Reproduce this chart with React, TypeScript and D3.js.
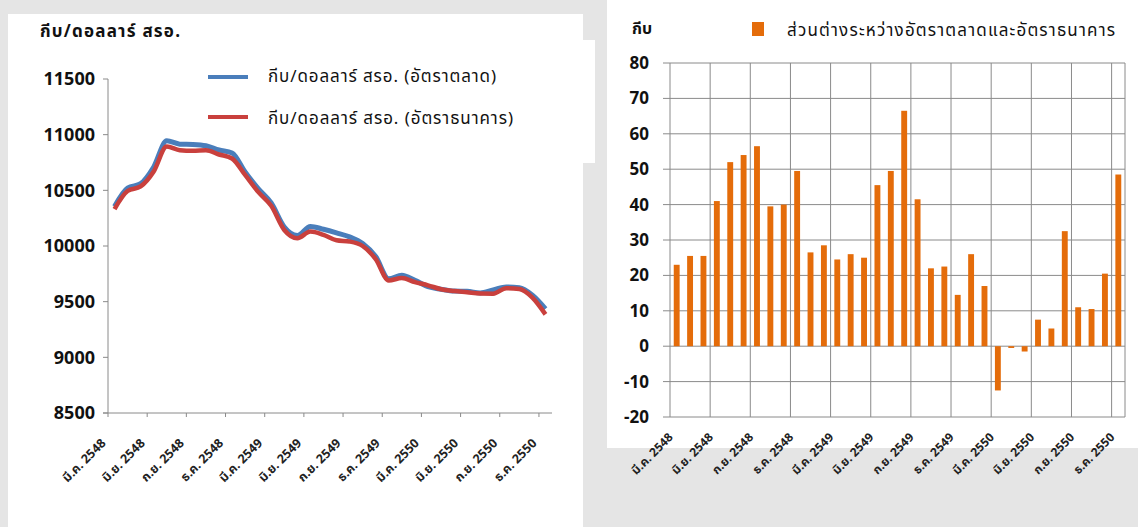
import React from 'react';
import * as d3 from 'd3';

// monthly categories, Mar 2548 .. Dec 2550
const categories = [
  'มี.ค. 2548', 'เม.ย. 2548', 'พ.ค. 2548', 'มิ.ย. 2548', 'ก.ค. 2548', 'ส.ค. 2548', 'ก.ย. 2548', 'ต.ค. 2548', 'พ.ย. 2548', 'ธ.ค. 2548',
  'ม.ค. 2549', 'ก.พ. 2549', 'มี.ค. 2549', 'เม.ย. 2549', 'พ.ค. 2549', 'มิ.ย. 2549', 'ก.ค. 2549', 'ส.ค. 2549', 'ก.ย. 2549', 'ต.ค. 2549', 'พ.ย. 2549', 'ธ.ค. 2549',
  'ม.ค. 2550', 'ก.พ. 2550', 'มี.ค. 2550', 'เม.ย. 2550', 'พ.ค. 2550', 'มิ.ย. 2550', 'ก.ค. 2550', 'ส.ค. 2550', 'ก.ย. 2550', 'ต.ค. 2550', 'พ.ย. 2550', 'ธ.ค. 2550',
];

const marketRate = [
  10355, 10520, 10560, 10710, 10945, 10915, 10912, 10900, 10862, 10836,
  10665, 10515, 10386, 10170, 10095, 10176, 10150, 10118, 10082, 10022, 9905, 9705,
  9738, 9692, 9635, 9612, 9595, 9593, 9578, 9605, 9632, 9625, 9558, 9435,
];

const bankRate = [
  10332, 10494, 10535, 10669, 10893, 10861, 10855, 10860, 10822, 10786,
  10638, 10486, 10361, 10144, 10070, 10130, 10100, 10051, 10040, 10000, 9882, 9690,
  9712, 9675, 9647, 9612, 9596, 9585, 9573, 9572, 9621, 9614, 9537, 9386,
];

const spread = [
  23, 25.5, 25.5, 41, 52, 54, 56.5, 39.5, 40, 49.5,
  26.5, 28.5, 24.5, 26, 25, 45.5, 49.5, 66.5, 41.5, 22, 22.5, 14.5,
  26, 17, -12.5, -0.5, -1.5, 7.5, 5, 32.5, 11, 10.5, 20.5, 48.5,
];

const leftTicks = [8500, 9000, 9500, 10000, 10500, 11000, 11500];
const rightTicks = [-20, -10, 0, 10, 20, 30, 40, 50, 60, 70, 80];
const labelledIdx = categories.map((_, i) => i).filter(i => i % 3 === 0);

const seriesNames = ['กีบ/ดอลลาร์ สรอ. (อัตราตลาด)', 'กีบ/ดอลลาร์ สรอ. (อัตราธนาคาร)'];
const spreadName = 'ส่วนต่างระหว่างอัตราตลาดและอัตราธนาคาร';

const FONT = "Tahoma, 'Noto Sans Thai', 'Noto Sans', 'Liberation Sans', sans-serif";
const AXIS = '#8a8a8a';
const BLUE = '#4a7ebb';
const RED = '#c9403d';
const ORANGE = '#e46c0a';

export default function App() {
  // left chart
  const xL = d3.scaleBand<string>().domain(categories).range([108, 552]);
  const yL = d3.scaleLinear().domain([8500, 11500]).range([413, 79]);
  const cx = (i: number) => (xL(categories[i]) as number) + xL.bandwidth() / 2;
  const line = d3.line<number>().x((_, i) => cx(i)).y(d => yL(d)).curve(d3.curveMonotoneX);

  // right chart
  const xR = d3.scaleBand<string>().domain(categories).range([670, 1125]);
  const xBar = d3.scaleBand<string>().domain(categories).range([670, 1125]).paddingInner(0.56).paddingOuter(0.28);
  const yR = d3.scaleLinear().domain([-20, 80]).range([417, 63]);

  return (
    <div style={{ position: 'absolute', left: 0, top: 0 }}>
      <svg width={1138} height={527} style={{ display: 'block', fontFamily: FONT }}>
        <rect x={0} y={0} width={1138} height={527} fill="#e5e5e5" />
        {/* panels */}
        <rect x={8} y={14} width={575} height={513} fill="#fff" />
        <rect x={560} y={40} width={35} height={123} fill="#fff" />
        <rect x={607} y={0} width={531} height={448} fill="#fff" />

        {/* ===== left chart ===== */}
        <text x={40} y={37} fontSize={17} fontWeight="bold" fill="#111" textLength={140}>กีบ/ดอลลาร์ สรอ.</text>
        <line x1={108} x2={108} y1={yL(11500)} y2={413} stroke={AXIS} />
        <line x1={103} x2={552} y1={413} y2={413} stroke={AXIS} />
        {leftTicks.map(t => (
          <g key={t}>
            <line x1={103} x2={108} y1={yL(t)} y2={yL(t)} stroke={AXIS} />
            <text x={95} y={yL(t)} dy="0.35em" textAnchor="end" fontSize={18} fontWeight="bold" fill="#111">{t}</text>
          </g>
        ))}
        {labelledIdx.map(i => (
          <line key={i} x1={xL(categories[i]) as number} x2={xL(categories[i]) as number} y1={413} y2={417} stroke={AXIS} />
        ))}
        {labelledIdx.map(i => (
          <text key={i} transform={`translate(${cx(i) - 8},${444}) rotate(-45)`} textAnchor="end"
            fontSize={12.5} fontWeight="bold" fill="#222">{categories[i]}</text>
        ))}
        <path d={line(marketRate) as string} fill="none" stroke={BLUE} strokeWidth={5} strokeLinejoin="round" />
        <path d={line(bankRate) as string} fill="none" stroke={RED} strokeWidth={4.5} strokeLinejoin="round" />

        {/* legend */}
        <line x1={208} x2={248} y1={77} y2={77} stroke={BLUE} strokeWidth={4} />
        <text x={268} y={82} fontSize={17} fill="#111" textLength={228}>{seriesNames[0]}</text>
        <line x1={208} x2={248} y1={117} y2={117} stroke={RED} strokeWidth={4} />
        <text x={268} y={124} fontSize={17} fill="#111" textLength={245}>{seriesNames[1]}</text>

        {/* ===== right chart ===== */}
        <text x={632} y={34} fontSize={16} fontWeight="bold" fill="#111">กีบ</text>
        <rect x={752} y={22} width={12} height={14} fill={ORANGE} />
        <text x={787} y={36} fontSize={17} fill="#111" textLength={328}>{spreadName}</text>

        {rightTicks.map(t => (
          <g key={t}>
            <line x1={663} x2={1125} y1={yR(t)} y2={yR(t)} stroke={AXIS} />
            <text x={649} y={yR(t)} dy="0.35em" textAnchor="end" fontSize={17} fontWeight="bold" fill="#111">{t}</text>
          </g>
        ))}
        <line x1={670} x2={670} y1={yR(80)} y2={yR(-20)} stroke={AXIS} />
        <line x1={1125} x2={1125} y1={yR(80)} y2={yR(-20)} stroke={AXIS} />
        {labelledIdx.filter(i => i > 0).map(i => (
          <line key={i} x1={xR(categories[i]) as number} x2={xR(categories[i]) as number} y1={yR(80)} y2={yR(-20)} stroke={AXIS} />
        ))}
        {spread.map((v, i) => (
          <rect key={i} x={xBar(categories[i]) as number} width={xBar.bandwidth()}
            y={yR(Math.max(0, v))} height={Math.abs(yR(v) - yR(0))} fill={ORANGE} />
        ))}
        {labelledIdx.map(i => (
          <text key={i} transform={`translate(${(xR(categories[i]) as number) + xR.bandwidth() / 2 - 3},${438}) rotate(-45)`}
            textAnchor="end" fontSize={12} fontWeight="bold" fill="#222">{categories[i]}</text>
        ))}
      </svg>
    </div>
  );
}
